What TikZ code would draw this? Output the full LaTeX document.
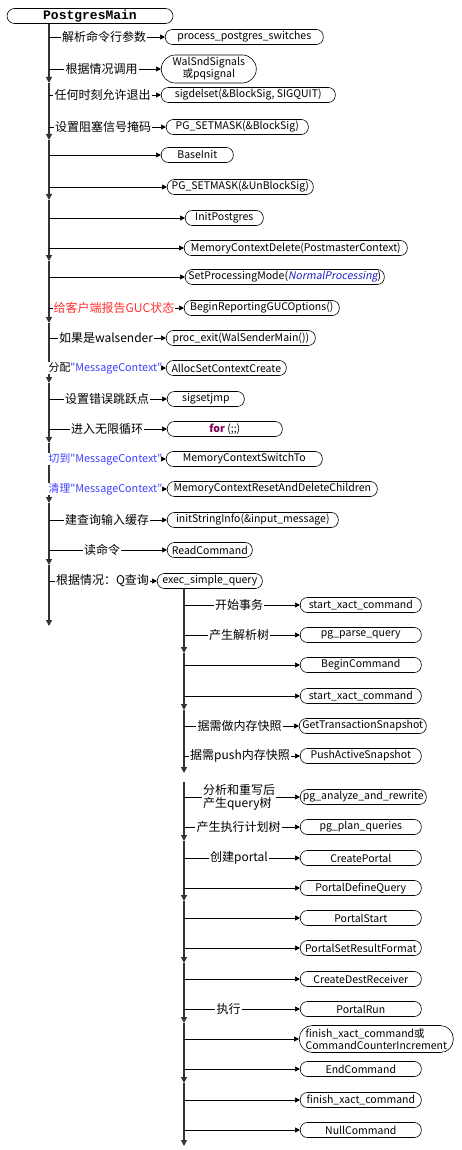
\documentclass[tikz,border=0pt]{standalone}
\usepackage{fontspec}
\newfontfamily\cjkfont{Noto Sans CJK SC}
\newfontfamily\codefont{Liberation Mono}
\newfontfamily\slantfont{Noto Sans CJK SC}[FakeSlant=0.2]
\usetikzlibrary{arrows.meta}
\definecolor{ctxblue}{RGB}{64,64,255}
\definecolor{gucred}{RGB}{255,48,48}
\definecolor{kwpurple}{RGB}{127,0,85}
\definecolor{modeblue}{RGB}{32,32,200}

\begin{document}
\begin{tikzpicture}[x=1pt,y=-1pt,
  fn/.style={draw=black,line width=0.6pt,rounded corners=7pt,minimum height=15pt,inner sep=0pt,font=\cjkfont\fontsize{10.5}{12}\selectfont},
  lbl/.style={fill=white,inner xsep=1pt,inner ysep=0.5pt,font=\cjkfont\fontsize{12}{13}\selectfont},
  ctxlbl/.style={lbl,anchor=west,inner xsep=0.5pt,font=\cjkfont\fontsize{10.8}{12}\selectfont},
  spine/.style={draw=black!80,line width=1.2pt,-{Triangle[length=6pt,width=6pt]}},
  arr/.style={draw=black,line width=0.6pt,-{Triangle[length=5pt,width=5pt]}}]
\useasboundingbox (0,0) rectangle (461,1150);

\coordinate (m0) at (49,23);
\coordinate (m1) at (49,83);
\coordinate (m2) at (49,140);
\coordinate (m3) at (49,200);
\coordinate (m4) at (49,261);
\coordinate (m5) at (49,323);
\coordinate (m6) at (49,383);
\coordinate (m7) at (49,443);
\coordinate (m8) at (49,503);
\coordinate (m9) at (49,565);
\coordinate (m10) at (49,626);
\draw[spine] (m0) -- (m1);
\draw[spine] (m1) -- (m2);
\draw[spine] (m2) -- (m3);
\draw[spine] (m3) -- (m4);
\draw[spine] (m4) -- (m5);
\draw[spine] (m5) -- (m6);
\draw[spine] (m6) -- (m7);
\draw[spine] (m7) -- (m8);
\draw[spine] (m8) -- (m9);
\draw[spine] (m9) -- (m10);

\coordinate (s0) at (184,589);
\coordinate (s1) at (184,653);
\coordinate (s2) at (184,710);
\coordinate (s3) at (184,773);
\coordinate (s3b) at (184,782);
\coordinate (s4) at (184,841);
\coordinate (s5) at (184,901);
\coordinate (s6) at (184,963);
\coordinate (s7) at (184,1023);
\coordinate (s8) at (184,1083);
\coordinate (s9) at (184,1146);
\draw[spine] (s0) -- (s1);
\draw[spine] (s1) -- (s2);
\draw[spine] (s2) -- (s3);
\draw[spine] (s3b) -- (s4);
\draw[spine] (s4) -- (s5);
\draw[spine] (s5) -- (s6);
\draw[spine] (s6) -- (s7);
\draw[spine] (s7) -- (s8);
\draw[spine] (s8) -- (s9);

\node[fn,minimum width=166pt,rounded corners=7.5pt] (pm) at (90,16) {\codefont\bfseries\fontsize{13}{14}\selectfont PostgresMain};

\node[fn,anchor=west,minimum width=158pt] (b1) at (165,37) {process\_postgres\_switches};
\node[fn,anchor=west,minimum width=95pt,minimum height=28pt,rounded corners=14pt,align=center] (b2) at (161,69) {WalSndSignals\\或pqsignal};
\node[fn,anchor=west,minimum width=174pt] (b3) at (161,95) {sigdelset(\&BlockSig, SIGQUIT)};
\node[fn,anchor=west,minimum width=142pt] (b4) at (166,127) {PG\_SETMASK(\&BlockSig)};
\node[fn,anchor=west,minimum width=72pt] (b5) at (161,155) {BaseInit};
\node[fn,anchor=west,minimum width=146pt] (b6) at (167,187) {PG\_SETMASK(\&UnBlockSig)};
\node[fn,anchor=west,minimum width=78pt] (b7) at (185,218) {InitPostgres};
\node[fn,anchor=west,minimum width=223pt] (b8) at (184,248) {MemoryContextDelete(PostmasterContext)};
\node[fn,anchor=west,minimum width=199pt] (b9) at (185,277) {SetProcessingMode({\slantfont\color{modeblue}NormalProcessing})};
\node[fn,anchor=west,minimum width=155pt] (b10) at (184,308) {BeginReportingGUCOptions()};
\node[fn,anchor=west,minimum width=149pt] (b11) at (166,338) {proc\_exit(WalSenderMain())};
\node[fn,anchor=west,minimum width=120pt] (b12) at (166,368) {AllocSetContextCreate};
\node[fn,anchor=west,minimum width=77pt] (b13) at (167,399) {sigsetjmp};
\node[fn,anchor=west,minimum width=115pt] (b14) at (167,429) {{\bfseries\color{kwpurple}for} (;;)};
\node[fn,anchor=west,minimum width=156pt] (b15) at (166,459) {MemoryContextSwitchTo};
\node[fn,anchor=west,minimum width=210pt] (b16) at (167,489) {MemoryContextResetAndDeleteChildren};
\node[fn,anchor=west,minimum width=171pt] (b17) at (167,520) {initStringInfo(\&input\_message)};
\node[fn,anchor=west,minimum width=85pt] (b18) at (167,550) {ReadCommand};
\node[fn,anchor=west,minimum width=105pt] (b19) at (157,581) {exec\_simple\_query};

\node[lbl] (l1) at (104,37) {解析命令行参数};
\node[lbl] (l2) at (101.5,69) {根据情况调用};
\node[lbl] (l3) at (102.5,95) {任何时刻允许退出};
\node[lbl] (l4) at (103,127) {设置阻塞信号掩码};
\node[lbl,text=gucred] (l10) at (114,308) {给客户端报告GUC状态};
\node[lbl] (l11) at (106,338) {如果是walsender};
\node[ctxlbl] (l12) at (48,368) {分配\textcolor{ctxblue}{"MessageContext"}};
\node[lbl] (l13) at (107,399) {设置错误跳跃点};
\node[lbl] (l14) at (107,429) {进入无限循环};
\node[ctxlbl,text=ctxblue] (l15) at (48,459) {切到"MessageContext"};
\node[ctxlbl,text=ctxblue] (l16) at (48,489) {清理"MessageContext"};
\node[lbl] (l17) at (107,520) {建查询输入缓存};
\node[lbl] (l18) at (102,550) {读命令};
\node[lbl] (l19) at (102.5,581) {根据情况：Q查询};

\draw (m0 |- l1) -- (l1);
\draw[arr] (l1) -- (b1);
\draw (m0 |- l2) -- (l2);
\draw[arr] (l2) -- (b2);
\draw (m0 |- l3) -- (l3);
\draw[arr] (l3) -- (b3);
\draw (m0 |- l4) -- (l4);
\draw[arr] (l4) -- (b4);
\draw[arr] (m0 |- b5) -- (b5);
\draw[arr] (m0 |- b6) -- (b6);
\draw[arr] (m0 |- b7) -- (b7);
\draw[arr] (m0 |- b8) -- (b8);
\draw[arr] (m0 |- b9) -- (b9);
\draw (m0 |- l10) -- (l10);
\draw[arr] (l10) -- (b10);
\draw (m0 |- l11) -- (l11);
\draw[arr] (l11) -- (b11);
\draw[arr] (l12) -- (b12);
\draw (m0 |- l13) -- (l13);
\draw[arr] (l13) -- (b13);
\draw (m0 |- l14) -- (l14);
\draw[arr] (l14) -- (b14);
\draw[arr] (l15) -- (b15);
\draw[arr] (l16) -- (b16);
\draw (m0 |- l17) -- (l17);
\draw[arr] (l17) -- (b17);
\draw (m0 |- l18) -- (l18);
\draw[arr] (l18) -- (b18);
\draw (m0 |- l19) -- (l19);
\draw[arr] (l19) -- (b19);

\node[fn,anchor=west,minimum width=121pt] (q1) at (300,605) {start\_xact\_command};
\node[fn,anchor=west,minimum width=121pt] (q2) at (300,635) {pg\_parse\_query};
\node[fn,anchor=west,minimum width=121pt] (q3) at (300,665) {BeginCommand};
\node[fn,anchor=west,minimum width=121pt] (q4) at (300,696) {start\_xact\_command};
\node[fn,anchor=west,minimum width=127pt] (q5) at (299,726) {GetTransactionSnapshot};
\node[fn,anchor=west,minimum width=121pt] (q6) at (300,756) {PushActiveSnapshot};
\node[fn,anchor=west,minimum width=126pt] (q7) at (300,797) {pg\_analyze\_and\_rewrite};
\node[fn,anchor=west,minimum width=121pt] (q8) at (300,827) {pg\_plan\_queries};
\node[fn,anchor=west,minimum width=121pt] (q9) at (300,858) {CreatePortal};
\node[fn,anchor=west,minimum width=121pt] (q10) at (300,888) {PortalDefineQuery};
\node[fn,anchor=west,minimum width=121pt] (q11) at (300,918) {PortalStart};
\node[fn,anchor=west,minimum width=121pt] (q12) at (300,948) {PortalSetResultFormat};
\node[fn,anchor=west,minimum width=121pt] (q13) at (300,979) {CreateDestReceiver};
\node[fn,anchor=west,minimum width=121pt] (q14) at (300,1009) {PortalRun};
\node[fn,anchor=west,minimum width=154pt,minimum height=27pt,rounded corners=13pt,align=left] (q15) at (299,1039) {finish\_xact\_command或\\CommandCounterIncrement};
\node[fn,anchor=west,minimum width=121pt] (q16) at (300,1069) {EndCommand};
\node[fn,anchor=west,minimum width=121pt] (q17) at (300,1100) {finish\_xact\_command};
\node[fn,anchor=west,minimum width=121pt] (q18) at (300,1130) {NullCommand};

\node[lbl] (k1) at (239,605) {开始事务};
\node[lbl] (k2) at (239,635) {产生解析树};
\node[lbl] (k5) at (239.5,726) {据需做内存快照};
\node[lbl] (k6) at (240,756) {据需push内存快照};
\node[lbl,align=left] (k7) at (239,797) {分析和重写后\\产生query树};
\node[lbl] (k8) at (238.5,827) {产生执行计划树};
\node[lbl] (k9) at (239,858) {创建portal};
\node[lbl] (k14) at (228.5,1009) {执行};

\draw (s0 |- k1) -- (k1);
\draw[arr] (k1) -- (q1);
\draw (s0 |- k2) -- (k2);
\draw[arr] (k2) -- (q2);
\draw[arr] (s0 |- q3) -- (q3);
\draw[arr] (s0 |- q4) -- (q4);
\draw (s0 |- k5) -- (k5);
\draw[arr] (k5) -- (q5);
\draw (s0 |- k6) -- (k6);
\draw[arr] (k6) -- (q6);
\draw (s0 |- k7) -- (k7);
\draw[arr] (k7) -- (q7);
\draw (s0 |- k8) -- (k8);
\draw[arr] (k8) -- (q8);
\draw (s0 |- k9) -- (k9);
\draw[arr] (k9) -- (q9);
\draw[arr] (s0 |- q10) -- (q10);
\draw[arr] (s0 |- q11) -- (q11);
\draw[arr] (s0 |- q12) -- (q12);
\draw[arr] (s0 |- q13) -- (q13);
\draw (s0 |- k14) -- (k14);
\draw[arr] (k14) -- (q14);
\draw[arr] (s0 |- q15) -- (q15);
\draw[arr] (s0 |- q16) -- (q16);
\draw[arr] (s0 |- q17) -- (q17);
\draw[arr] (s0 |- q18) -- (q18);

\end{tikzpicture}
\end{document}
